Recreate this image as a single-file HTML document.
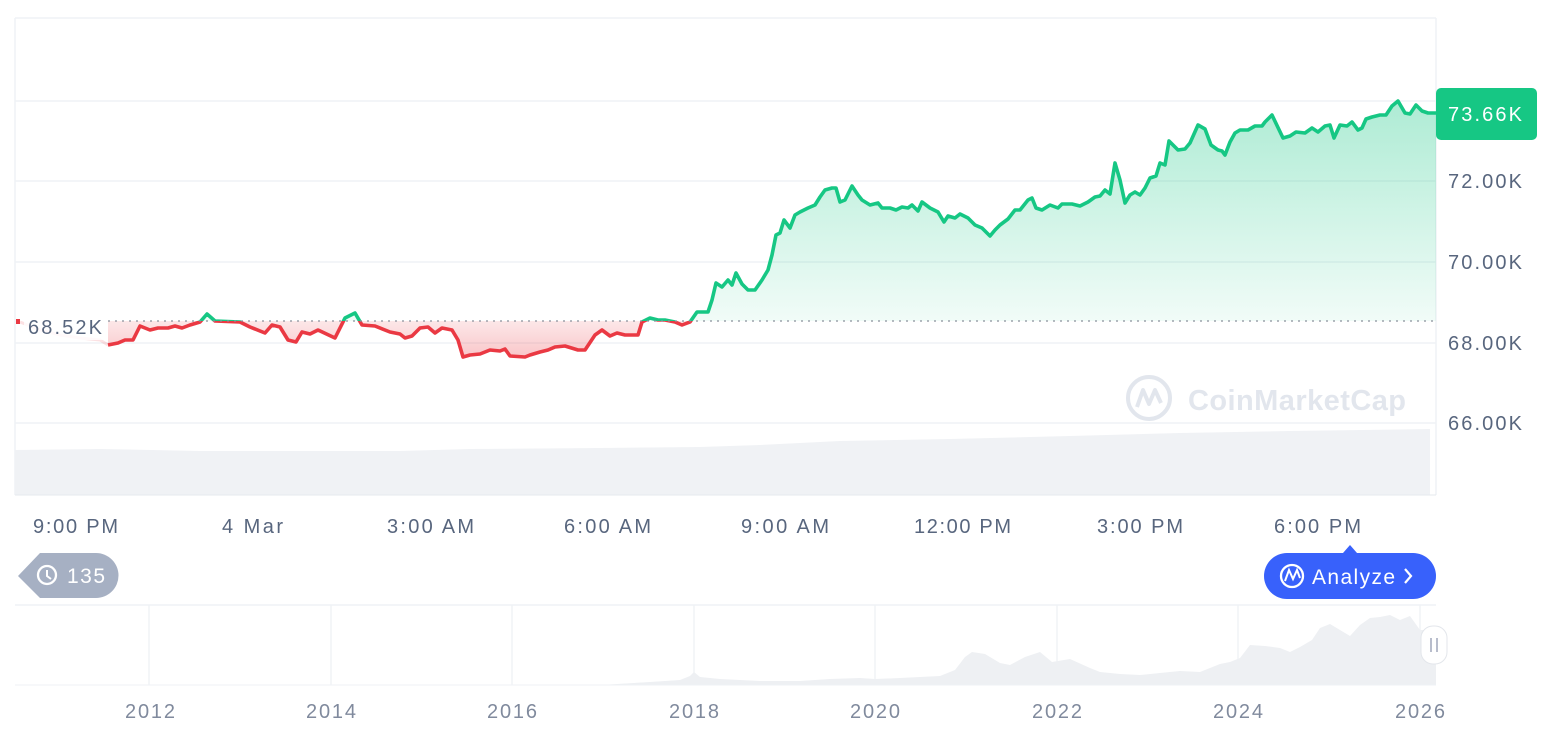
<!DOCTYPE html>
<html><head><meta charset="utf-8"><style>
html,body{margin:0;padding:0;background:#fff;width:1566px;height:732px;overflow:hidden}
svg{display:block;font-family:"Liberation Sans",sans-serif}
</style></head><body>
<svg width="1566" height="732" viewBox="0 0 1566 732">
<defs>
<linearGradient id="gg" x1="0" y1="100" x2="0" y2="321" gradientUnits="userSpaceOnUse">
<stop offset="0" stop-color="#16c784" stop-opacity="0.35"/><stop offset="1" stop-color="#16c784" stop-opacity="0.06"/></linearGradient>
<linearGradient id="rg" x1="0" y1="321" x2="0" y2="360" gradientUnits="userSpaceOnUse">
<stop offset="0" stop-color="#ea3943" stop-opacity="0.12"/><stop offset="1" stop-color="#ea3943" stop-opacity="0.3"/></linearGradient>
<clipPath id="up"><rect x="0" y="0" width="1440" height="321"/></clipPath>
<clipPath id="dn"><rect x="0" y="321" width="1440" height="200"/></clipPath>
</defs>
<line x1="15" y1="18" x2="1436" y2="18" stroke="#eff2f5" stroke-width="1.5"/>
<line x1="15" y1="18" x2="15" y2="495" stroke="#eff2f5" stroke-width="1.5"/>
<line x1="1436" y1="18" x2="1436" y2="495" stroke="#eff2f5" stroke-width="1.5"/>
<g stroke="#eff2f5" stroke-width="1.5">
<line x1="15" y1="101" x2="1436" y2="101"/><line x1="15" y1="181" x2="1436" y2="181"/>
<line x1="15" y1="262" x2="1436" y2="262"/><line x1="15" y1="343" x2="1436" y2="343"/>
<line x1="15" y1="423" x2="1436" y2="423"/></g>
<polygon points="15,495 15,450 100,449 200,451 400,451 470,449 600,448 700,447 760,445 840,441 950,439 1070,436 1180,433 1290,431 1430,429 1430,495" fill="#f0f2f5"/>
<line x1="15" y1="495" x2="1436" y2="495" stroke="#e6e9ee" stroke-width="1"/>
<g>
<circle cx="1149" cy="398" r="21" fill="none" stroke="#e2e6ed" stroke-width="4"/>
<path d="M1137,407 L1143,390 L1149,404 L1155,390 L1161,403" fill="none" stroke="#e2e6ed" stroke-width="4" stroke-linejoin="round"/>
<text x="1188" y="410" font-size="29" font-weight="bold" fill="#e2e6ed" textLength="218">CoinMarketCap</text></g>
<polygon clip-path="url(#up)" fill="url(#gg)" points="108,321 108,345 118,343 125,340 133,340 140,326 150,330 158,328 168,328 175,326 182,328 190,325 200,322 207,314 215,321 240,322 250,327 265,333 272,325 280,327 288,340 296,342 302,332 310,334 318,330 335,338 345,318 355,313 362,325 375,326 390,332 400,334 405,338 412,336 420,328 428,327 435,333 442,328 452,330 458,340 463,357 470,355 480,354 490,350 500,351 505,349 510,356 525,357 530,355 540,352 548,350 555,347 565,346 578,350 585,350 595,335 602,330 610,336 617,333 625,335 638,335 642,322 650,318 658,320 665,320 675,322 682,325 690,322 697,312 708,312 712,300 716,283 722,287 728,280 732,285 736,273 742,284 748,290 755,290 762,280 768,270 772,255 776,235 780,233 784,220 790,228 795,215 800,212 808,208 815,205 820,197 825,190 832,188 836,188 840,202 845,200 852,186 858,195 862,200 870,205 878,203 882,208 890,208 896,210 902,207 908,208 912,205 918,211 922,202 930,208 938,212 944,222 948,216 955,218 960,214 968,218 975,225 982,228 990,236 995,230 1000,225 1008,219 1015,210 1020,210 1028,200 1032,198 1036,208 1042,210 1050,205 1058,208 1062,204 1072,204 1080,206 1088,202 1095,197 1100,196 1105,190 1110,194 1115,163 1120,180 1125,203 1130,195 1135,192 1140,195 1145,188 1150,178 1156,176 1160,163 1165,165 1169,141 1178,150 1185,149 1190,143 1198,125 1205,129 1211,145 1218,150 1222,151 1225,155 1230,142 1235,133 1240,130 1248,130 1255,126 1262,126 1265,122 1272,115 1283,138 1290,136 1296,132 1305,133 1312,128 1318,132 1325,126 1330,125 1334,138 1340,125 1347,126 1352,122 1358,130 1362,128 1366,119 1372,117 1380,115 1386,115 1392,106 1398,101 1405,113 1410,114 1416,105 1422,111 1428,113 1436,113 1436,321"/>
<polygon clip-path="url(#dn)" fill="url(#rg)" points="108,321 108,345 118,343 125,340 133,340 140,326 150,330 158,328 168,328 175,326 182,328 190,325 200,322 207,314 215,321 240,322 250,327 265,333 272,325 280,327 288,340 296,342 302,332 310,334 318,330 335,338 345,318 355,313 362,325 375,326 390,332 400,334 405,338 412,336 420,328 428,327 435,333 442,328 452,330 458,340 463,357 470,355 480,354 490,350 500,351 505,349 510,356 525,357 530,355 540,352 548,350 555,347 565,346 578,350 585,350 595,335 602,330 610,336 617,333 625,335 638,335 642,322 650,318 658,320 665,320 675,322 682,325 690,322 697,312 708,312 712,321"/>
<polyline id="ln" fill="none" stroke-width="3.6" stroke-linejoin="round" points="108,345 118,343 125,340 133,340 140,326 150,330 158,328 168,328 175,326 182,328 190,325 200,322 207,314 215,321 240,322 250,327 265,333 272,325 280,327 288,340 296,342 302,332 310,334 318,330 335,338 345,318 355,313 362,325 375,326 390,332 400,334 405,338 412,336 420,328 428,327 435,333 442,328 452,330 458,340 463,357 470,355 480,354 490,350 500,351 505,349 510,356 525,357 530,355 540,352 548,350 555,347 565,346 578,350 585,350 595,335 602,330 610,336 617,333 625,335 638,335 642,322 650,318 658,320 665,320 675,322 682,325 690,322 697,312 708,312 712,300 716,283 722,287 728,280 732,285 736,273 742,284 748,290 755,290 762,280 768,270 772,255 776,235 780,233 784,220 790,228 795,215 800,212 808,208 815,205 820,197 825,190 832,188 836,188 840,202 845,200 852,186 858,195 862,200 870,205 878,203 882,208 890,208 896,210 902,207 908,208 912,205 918,211 922,202 930,208 938,212 944,222 948,216 955,218 960,214 968,218 975,225 982,228 990,236 995,230 1000,225 1008,219 1015,210 1020,210 1028,200 1032,198 1036,208 1042,210 1050,205 1058,208 1062,204 1072,204 1080,206 1088,202 1095,197 1100,196 1105,190 1110,194 1115,163 1120,180 1125,203 1130,195 1135,192 1140,195 1145,188 1150,178 1156,176 1160,163 1165,165 1169,141 1178,150 1185,149 1190,143 1198,125 1205,129 1211,145 1218,150 1222,151 1225,155 1230,142 1235,133 1240,130 1248,130 1255,126 1262,126 1265,122 1272,115 1283,138 1290,136 1296,132 1305,133 1312,128 1318,132 1325,126 1330,125 1334,138 1340,125 1347,126 1352,122 1358,130 1362,128 1366,119 1372,117 1380,115 1386,115 1392,106 1398,101 1405,113 1410,114 1416,105 1422,111 1428,113 1436,113"/>
<use href="#ln" clip-path="url(#up)" stroke="#16c784"/>
<use href="#ln" clip-path="url(#dn)" stroke="#ea3943"/>
<polyline points="20,322 40,330 60,335 80,338 100,340 108,345" fill="none" stroke="#ea3943" stroke-opacity="0.15" stroke-width="3"/>
<line x1="108" y1="321" x2="1436" y2="321" stroke="#8a919c" stroke-width="1.3" stroke-dasharray="2 5"/>
<rect x="16" y="319" width="4" height="5" fill="#ea3943"/>
<rect x="24" y="312" width="82" height="28" fill="#fff" opacity="0.8"/>
<text x="28" y="334" font-size="20" fill="#58667e" textLength="74">68.52K</text>
<g font-size="20" fill="#58667e">
<text x="1448" y="188" textLength="74">72.00K</text><text x="1448" y="269" textLength="74">70.00K</text>
<text x="1448" y="350" textLength="74">68.00K</text><text x="1448" y="430" textLength="74">66.00K</text></g>
<rect x="1436" y="88" width="101" height="52" rx="5" fill="#16c784"/>
<text x="1448" y="121" font-size="20" fill="#fff" textLength="74">73.66K</text>
<g font-size="20" fill="#58667e">
<text x="33" y="533" textLength="85">9:00 PM</text><text x="222" y="533" textLength="61">4 Mar</text>
<text x="387" y="533" textLength="87">3:00 AM</text><text x="564" y="533" textLength="87">6:00 AM</text>
<text x="741" y="533" textLength="88">9:00 AM</text><text x="914" y="533" textLength="97">12:00 PM</text>
<text x="1097" y="533" textLength="86">3:00 PM</text><text x="1274" y="533" textLength="87">6:00 PM</text></g>
<path d="M40,553 H96 A22,22 0 0 1 96,598 H40 L18,576 Z" fill="#a6b0c3"/>
<circle cx="47" cy="575" r="9" fill="none" stroke="#fff" stroke-width="2.3"/>
<path d="M47,570 V576 L51,579" fill="none" stroke="#fff" stroke-width="2"/>
<text x="67" y="583" font-size="21" fill="#fff" textLength="38">135</text>
<path d="M1343,553 L1350,545 L1357,553 Z" fill="#3861fb"/>
<rect x="1264" y="553" width="172" height="46" rx="23" fill="#3861fb"/>
<circle cx="1292" cy="576" r="11" fill="none" stroke="#fff" stroke-width="2.3"/>
<path d="M1285,581 L1289,570 L1293,579 L1297,570 L1300,578" fill="none" stroke="#fff" stroke-width="2"/>
<text x="1312" y="584" font-size="21" fill="#fff" textLength="83">Analyze</text>
<path d="M1405,569 L1411,576 L1405,583" fill="none" stroke="#fff" stroke-width="2.2"/>
<line x1="15" y1="605" x2="1436" y2="605" stroke="#eff2f5" stroke-width="1.5"/>
<g stroke="#eff2f5" stroke-width="1.3">
<line x1="149" y1="605" x2="149" y2="685"/><line x1="331" y1="605" x2="331" y2="685"/>
<line x1="512" y1="605" x2="512" y2="685"/><line x1="694" y1="605" x2="694" y2="685"/>
<line x1="875" y1="605" x2="875" y2="685"/><line x1="1057" y1="605" x2="1057" y2="685"/>
<line x1="1238" y1="605" x2="1238" y2="685"/><line x1="1420" y1="605" x2="1420" y2="685"/></g>
<polygon fill="#eef0f3" points="15,685 600,685 650,682 680,680 690,676 694,672 700,677 720,679 760,681 800,681 830,679 860,678 875,679 900,678 940,676 955,670 965,657 972,652 985,654 1000,663 1010,665 1025,657 1040,652 1052,662 1070,659 1090,668 1100,672 1120,674 1140,675 1160,673 1180,671 1200,672 1210,668 1220,664 1230,662 1240,658 1250,645 1265,646 1280,648 1290,652 1300,647 1312,640 1320,628 1330,624 1340,630 1350,636 1360,625 1370,618 1380,617 1390,615 1400,620 1410,616 1420,630 1430,630 1436,630 1436,685"/>
<line x1="15" y1="685" x2="1436" y2="685" stroke="#eff2f5" stroke-width="1"/>
<rect x="1421" y="626" width="26" height="38" rx="12" fill="#fff" stroke="#e3e6eb" stroke-width="1"/>
<line x1="1431" y1="638" x2="1431" y2="652" stroke="#a1a7bb" stroke-width="1.5"/>
<line x1="1437" y1="638" x2="1437" y2="652" stroke="#a1a7bb" stroke-width="1.5"/>
<g font-size="20" fill="#808a9d">
<text x="125" y="718" textLength="50">2012</text><text x="306" y="718" textLength="50">2014</text><text x="487" y="718" textLength="50">2016</text>
<text x="669" y="718" textLength="50">2018</text><text x="850" y="718" textLength="50">2020</text><text x="1032" y="718" textLength="50">2022</text>
<text x="1213" y="718" textLength="50">2024</text><text x="1395" y="718" textLength="50">2026</text></g>
</svg>
</body></html>
